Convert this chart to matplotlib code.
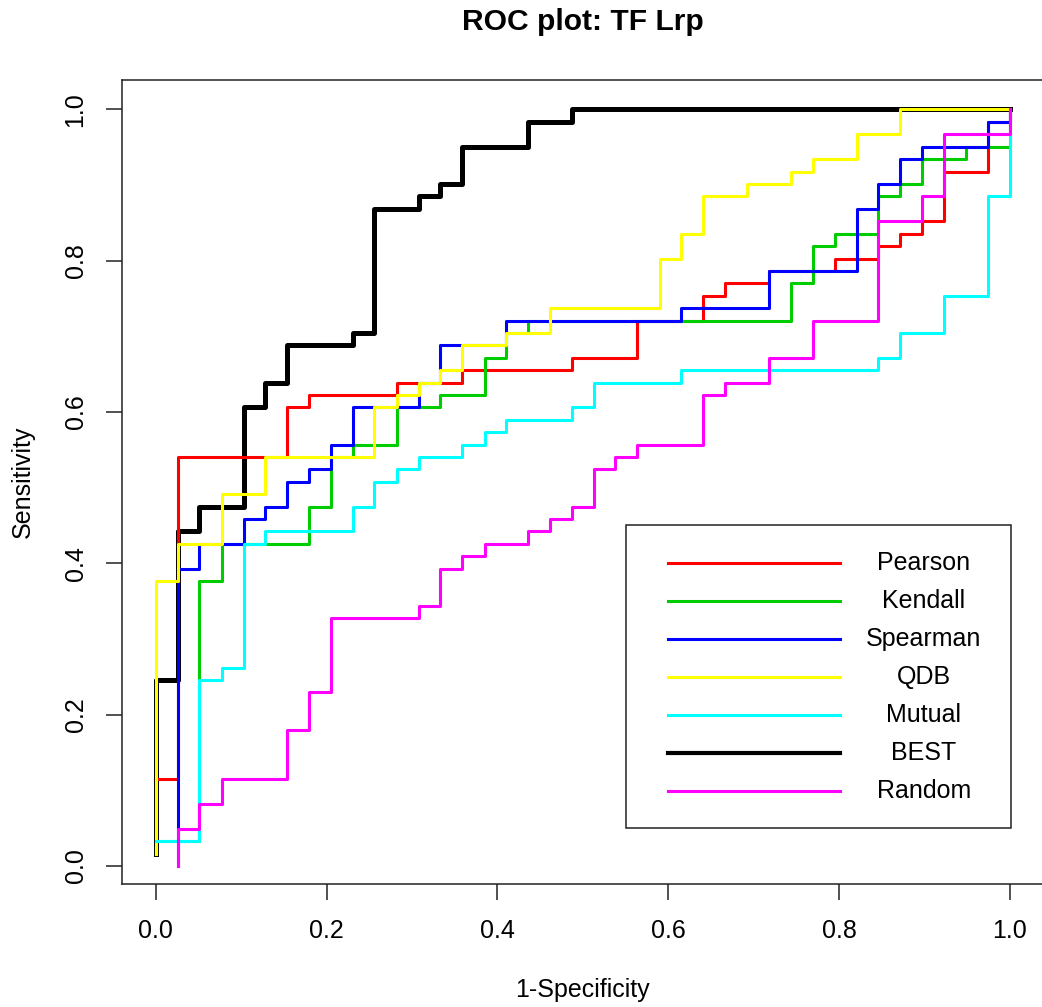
import matplotlib
matplotlib.use('Agg')
import matplotlib.pyplot as plt
from matplotlib.patches import Rectangle

plt.rcParams['font.family'] = ['Liberation Sans', 'DejaVu Sans']

# ROC step curves (1-specificity, sensitivity)
# each point is where a vertical step ends; drawn with steps-post
best_fpr = [0, 0, .026, .051, .103, .128, .154, .231, .256, .308, .333, .359, .436, .487, 1.0]
best_tpr = [.016, .246, .443, .475, .607, .639, .689, .705, .869, .885, .902, .951, .984, 1.0, 1.0]

pearson_fpr = [0, 0, .026, .154, .179, .282, .359, .487, .564, .641, .667, .718, .795, .846,
               .872, .897, .923, .974, 1.0]
pearson_tpr = [.016, .115, .541, .607, .623, .639, .656, .672, .721, .754, .770, .787, .803, .820,
               .836, .852, .918, .984, 1.0]

kendall_fpr = [0, 0, .051, .077, .179, .205, .231, .282, .333, .385, .410, .436, .744, .769,
               .795, .846, .872, .897, .949, 1.0]
kendall_tpr = [.016, .033, .377, .426, .475, .541, .557, .607, .623, .672, .705, .721, .770, .820,
               .836, .885, .902, .934, .951, 1.0]

spearman_fpr = [.026, .026, .051, .103, .128, .154, .179, .205, .231, .308, .333, .410, .615,
                .718, .821, .846, .872, .897, .974, 1.0]
spearman_tpr = [0, .393, .426, .459, .475, .508, .525, .557, .607, .639, .689, .721, .738,
                .787, .869, .902, .934, .951, .984, 1.0]

qdb_fpr = [0, 0, .026, .077, .128, .256, .282, .308, .333, .359, .410, .462, .590, .615, .641,
           .692, .744, .769, .821, .872, 1.0]
qdb_tpr = [.016, .377, .426, .492, .541, .607, .623, .639, .656, .689, .705, .738, .803, .836,
           .885, .902, .918, .934, .967, 1.0, 1.0]

mutual_fpr = [0, .051, .077, .103, .128, .231, .256, .282, .308, .359, .385, .410, .487, .513,
              .615, .846, .872, .923, .974, 1.0]
mutual_tpr = [.033, .246, .262, .426, .443, .475, .508, .525, .541, .557, .574, .590, .607, .639,
              .656, .672, .705, .754, .885, 1.0]

random_fpr = [.026, .026, .051, .077, .154, .179, .205, .308, .333, .359, .385, .436, .462, .487,
              .513, .538, .564, .641, .667, .718, .769, .846, .897, .923, 1.0]
random_tpr = [0, .049, .082, .115, .180, .230, .328, .344, .393, .410, .426, .443, .459, .475,
              .525, .541, .557, .623, .639, .672, .721, .852, .885, .967, 1.0]

LEGEND_NAMES = ['Pearson', 'Kendall', 'Spearman', 'QDB', 'Mutual', 'BEST', 'Random']
COLORS = {'Pearson': '#FF0000', 'Kendall': '#00CD00', 'Spearman': '#0000FF', 'QDB': '#FFFF00',
          'Mutual': '#00FFFF', 'BEST': '#000000', 'Random': '#FF00FF'}
WIDTHS = {name: 2.2 for name in LEGEND_NAMES}
WIDTHS['BEST'] = 3.6

curves = {
    'BEST': (best_fpr, best_tpr),
    'Pearson': (pearson_fpr, pearson_tpr),
    'Kendall': (kendall_fpr, kendall_tpr),
    'Spearman': (spearman_fpr, spearman_tpr),
    'QDB': (qdb_fpr, qdb_tpr),
    'Mutual': (mutual_fpr, mutual_tpr),
    'Random': (random_fpr, random_tpr),
}

FONT = 18
fig = plt.figure(figsize=(10.42, 10.07), dpi=100)
ax = fig.add_axes([0.1167, 0.1224, 0.8852, 0.7985])

# BEST goes first so the coloured lines sit on top of it
for i, (name, (fpr, tpr)) in enumerate(curves.items()):
    ax.plot(fpr, tpr, drawstyle='steps-post', color=COLORS[name], lw=WIDTHS[name], zorder=2 + i)

ax.set_xlim(-0.04, 1.04)
ax.set_ylim(-0.0234, 1.0394)
ticks = [0.0, 0.2, 0.4, 0.6, 0.8, 1.0]
ax.set_xticks(ticks)
ax.set_yticks(ticks)
ax.set_xticklabels([f'{t:.1f}' for t in ticks])
ax.set_yticklabels([f'{t:.1f}' for t in ticks], rotation=90, va='center')
ax.tick_params(axis='both', length=11.5, width=1.1, labelsize=FONT, color='#222222')
ax.tick_params(axis='x', pad=14)
ax.tick_params(axis='y', pad=13)
for spine in ax.spines.values():
    spine.set_color('#222222')
    spine.set_linewidth(1.1)

# legend box drawn by hand so the labels can be centred like in R
box_left, box_right, box_top, box_bottom = 0.5506, 1.001, 0.4508, 0.0498
line_x0, line_x1, text_x = 0.5994, 0.8012, 0.8995
row_y0, row_step = 0.4009, 0.0502
ax.add_patch(Rectangle((box_left, box_bottom), box_right - box_left, box_top - box_bottom,
                       fill=False, edgecolor='#222222', lw=1.1, zorder=20))
for i, name in enumerate(LEGEND_NAMES):
    y = row_y0 - i * row_step
    lw = 3.0 if name == 'BEST' else 2.2
    ax.plot([line_x0, line_x1], [y, y], color=COLORS[name], lw=lw, zorder=21)
    ax.text(text_x, y, name, ha='center', va='center', fontsize=FONT, zorder=21)

fig.text(0.5594, 1 - 22 / 1007, 'ROC plot: TF Lrp', ha='center', va='center',
         fontsize=21.6, fontweight='bold')
fig.text(0.5594, 1 - 990 / 1007, '1-Specificity', ha='center', va='center', fontsize=FONT)
fig.text(23 / 1042, 1 - 482 / 1007, 'Sensitivity', ha='center', va='center', rotation=90,
         fontsize=FONT)

fig.savefig('out.png', dpi=100)
